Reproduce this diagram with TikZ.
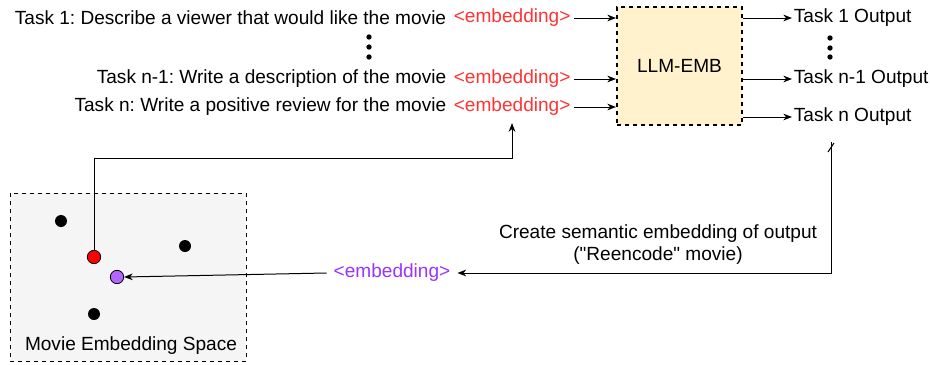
\documentclass[tikz,border=0pt]{standalone}
\usepackage{fontspec}
\setmainfont{Liberation Sans}
\usetikzlibrary{arrows.meta}
\frenchspacing

\definecolor{embred}{HTML}{FF3333}
\definecolor{embpurple}{HTML}{9933FF}
\definecolor{llmfill}{HTML}{FFF2CC}
\definecolor{spacefill}{HTML}{F5F5F5}
\definecolor{dotpurple}{HTML}{B266FF}

\tikzset{
  txt/.style={inner sep=1pt,font=\fontsize{14.3}{16.5}\selectfont},
  emb/.style={txt,text=embred},
  pnt/.style={circle,fill=black,inner sep=0pt,minimum size=9pt},
  vdot/.style={circle,fill=black,inner sep=0pt,minimum size=4pt},
  arr/.style={-{Stealth[length=6.5pt,width=5pt,inset=2pt]}},
}

\begin{document}
\begin{tikzpicture}[x=0.75pt,y=-0.75pt,line width=0.75pt]
       \useasboundingbox (0,0) rectangle (930,364);
       % Draw embedding space
       \draw[dashed,fill=spacefill] (10,193) rectangle (246,361);
       \node[txt] (space) at (131,346) {Movie Embedding Space};
       \node[pnt] (p_1) at (61,221) {};
       \node[pnt] (p_2) at (185,246) {};
       \node[pnt] (p_3) at (94,314) {};
       \node[pnt,fill=red,draw=black,line width=0.6pt,minimum size=10pt] (red) at (94,257) {};
       \node[pnt,fill=dotpurple,draw=black,line width=0.6pt,minimum size=10pt] (purple) at (117,277) {};

       % Draw task prompts
       \node[txt,anchor=east] (t_1) at (448,18) {Task 1: Describe a viewer that would like the movie};
       \node[txt,anchor=east] (t_n1) at (448,79) {Task n-1: Write a description of the movie};
       \node[txt,anchor=east] (t_n) at (448,107) {Task n: Write a positive review for the movie};
       \node[emb,anchor=west] (e_1) at (452,18) {<embedding>};
       \node[emb,anchor=west] (e_n1) at (452,79) {<embedding>};
       \node[emb,anchor=west] (e_n) at (452,107) {<embedding>};
       \foreach \y in {37,47,57} \node[vdot] at (369,\y) {};

       % Draw model box
       \node[draw,dashed,line width=1.5pt,fill=llmfill,minimum width=93.75pt,minimum height=88.5pt,
             font=\fontsize{14.3}{16.5}\selectfont] (llm) at (679.5,66) {LLM-EMB};

       \draw[arr] (e_1.east) ++(2,0) -- (e_1.east -| llm.west);
       \draw[arr] (e_n1.east) ++(2,0) -- (e_n1.east -| llm.west);
       \draw[arr] (e_n.east) ++(2,0) -- (e_n.east -| llm.west);

       % Draw outputs
       \node[txt,anchor=west] (o_1) at (792,18) {Task 1 Output};
       \node[txt,anchor=west] (o_n1) at (792,79) {Task n-1 Output};
       \node[txt,anchor=west] (o_n) at (792,117) {Task n Output};
       \foreach \y in {38,48,57} \node[vdot] at (830,\y) {};

       \draw[arr] (o_1.west -| llm.east) -- (o_1.west);
       \draw[arr] (o_n1.west -| llm.east) -- (o_n1.west);
       \draw[arr] (o_n.west -| llm.east) -- (o_n.west);

       % Draw loop back into the space
       \node[txt,align=center] (note) at (658,245) {Create semantic embedding of output\\(\textquotedbl Reencode\textquotedbl\ movie)};
       \node[txt,text=embpurple] (e_p) at (392,273) {<embedding>};
       \coordinate (cut) at (831,142);
       \draw[arr] (cut) |- ([xshift=4]e_p.east);
       \draw (828,152) -- (834,143);
       \draw[arr] ([xshift=-4]e_p.west) -- (purple.east);

       \coordinate (up) at (512,158);
       \draw[arr,shorten >=4pt] (red.north) |- (up) -- (up |- e_n.south);
   \end{tikzpicture}
\end{document}
